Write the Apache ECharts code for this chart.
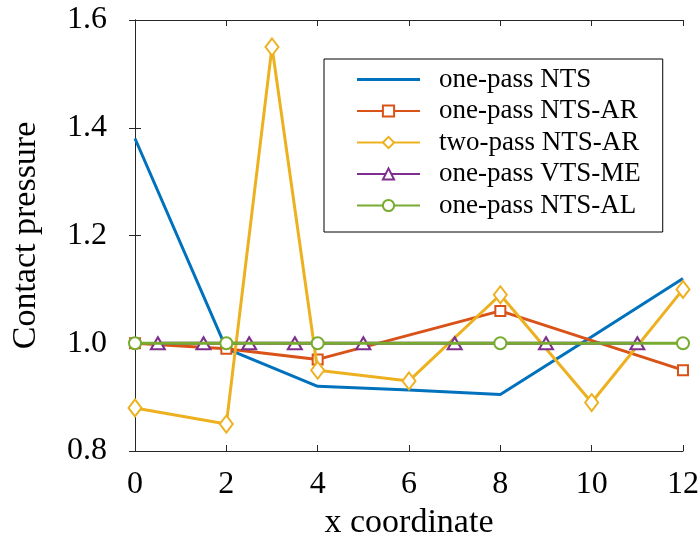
<!DOCTYPE html>
<html>
<head>
<meta charset="utf-8">
<script src="https://cdn.jsdelivr.net/npm/echarts@6/dist/echarts.min.js"></script>
<style>html,body{margin:0;padding:0;background:#fff;}#c{width:700px;height:533px;}</style>
</head>
<body>
<div id="c"></div>
<script>
const seriesNames = ['one-pass NTS', 'one-pass NTS-AR', 'two-pass NTS-AR', 'one-pass VTS-ME', 'one-pass NTS-AL'];
const ntsX = [0, 2, 4, 6, 8, 10, 12];
const ntsY = [1.38, 0.99, 0.92, 0.913, 0.905, 1.012, 1.12];
const ntsArX = [0, 2, 4, 8, 12];
const ntsArY = [1.0, 0.99, 0.97, 1.06, 0.95];
const twoPassX = [0, 2, 3, 4, 6, 8, 10, 12];
const twoPassY = [0.88, 0.85, 1.55, 0.95, 0.93, 1.09, 0.89, 1.10];
const vtsX = [0.5, 1.5, 2.5, 3.5, 5, 7, 9, 11];
const vtsY = [1.0, 1.0, 1.0, 1.0, 1.0, 1.0, 1.0, 1.0];
const alX = [0, 2, 4, 8, 12];
const alY = [1.0, 1.0, 1.0, 1.0, 1.0];
const xTicks = [0, 2, 4, 6, 8, 10, 12];
const yTicks = [0.8, 1.0, 1.2, 1.4, 1.6];
const colors = ['#0072BD', '#D95319', '#EDB120', '#7E2F8E', '#77AC30'];

const pairs = (xs, ys) => xs.map((x, i) => [x, ys[i]]);
const font = 'Liberation Serif';
const axisCol = '#262626';

function mk(i, xs, ys, symbol, size) {
  return {
    name: seriesNames[i], type: 'line', data: pairs(xs, ys),
    symbol: symbol, symbolSize: size, showSymbol: symbol !== 'none',
    lineStyle: { color: colors[i], width: 3 },
    itemStyle: { color: colors[i], borderWidth: 2.6 },
    emphasis: { disabled: true }, z: 2 + i
  };
}

const legendData = seriesNames.map((n, i) => i === 0
  ? { name: n, icon: 'path://M0,0 L0,0.01 M0,5.5 L63,5.5 L63,8.5 L0,8.5 Z M63,14 L63,13.99' }
  : { name: n });

const chart = echarts.init(document.getElementById('c'), null, { renderer: 'canvas' });
chart.setOption({
  animation: false,
  color: colors,
  grid: { left: 135, right: 17, top: 20, bottom: 82, containLabel: false, outerBoundsMode: 'none' },
  legend: {
    orient: 'vertical', left: 324, top: 59,
    padding: [7, 22, 13, 32],
    borderColor: '#000', borderWidth: 1, backgroundColor: '#fff',
    itemWidth: 63, itemHeight: 14, itemGap: 4.5,
    textStyle: { fontFamily: font, fontSize: 27, color: '#000', padding: [0, 0, 0, 14] },
    data: legendData
  },
  xAxis: [{
    type: 'value', min: 0, max: 12, interval: 2,
    name: 'x coordinate', nameLocation: 'middle', nameGap: 50,
    nameTextStyle: { fontFamily: font, fontSize: 34, color: '#000' },
    axisLine: { show: true, lineStyle: { color: axisCol, width: 1 } },
    axisTick: { inside: true, length: 6, lineStyle: { color: axisCol } },
    axisLabel: { fontFamily: font, fontSize: 32, color: '#000', margin: 18,
      formatter: v => xTicks.includes(v) ? String(v) : '' },
    splitLine: { show: false }
  }, {
    type: 'value', min: 0, max: 12, interval: 2, position: 'top',
    axisLine: { show: true, lineStyle: { color: axisCol, width: 1 } },
    axisTick: { inside: true, length: 6, lineStyle: { color: axisCol } },
    axisLabel: { show: false }, splitLine: { show: false }
  }],
  yAxis: [{
    type: 'value', min: 0.8, max: 1.6, interval: 0.2,
    name: 'Contact pressure', nameLocation: 'middle', nameGap: 92, nameRotate: 90,
    nameTextStyle: { fontFamily: font, fontSize: 34, color: '#000' },
    axisLine: { show: true, lineStyle: { color: axisCol, width: 1 } },
    axisTick: { inside: true, length: 6, lineStyle: { color: axisCol } },
    axisLabel: { fontFamily: font, fontSize: 32, color: '#000', margin: 28,
      formatter: v => yTicks.some(t => Math.abs(t - v) < 1e-9) ? v.toFixed(1) : '' },
    splitLine: { show: false }
  }, {
    type: 'value', min: 0.8, max: 1.6, interval: 0.2, position: 'right',
    axisLine: { show: true, lineStyle: { color: axisCol, width: 1 } },
    axisTick: { inside: true, length: 6, lineStyle: { color: axisCol } },
    axisLabel: { show: false }, splitLine: { show: false }
  }],
  series: [
    mk(0, ntsX, ntsY, 'none', 0),
    mk(1, ntsArX, ntsArY, 'emptyRect', 10),
    mk(2, twoPassX, twoPassY, 'emptyDiamond', [13, 17]),
    mk(3, vtsX, vtsY, 'emptyTriangle', [14, 12]),
    mk(4, alX, alY, 'emptyCircle', 12)
  ]
});
</script>
</body>
</html>
